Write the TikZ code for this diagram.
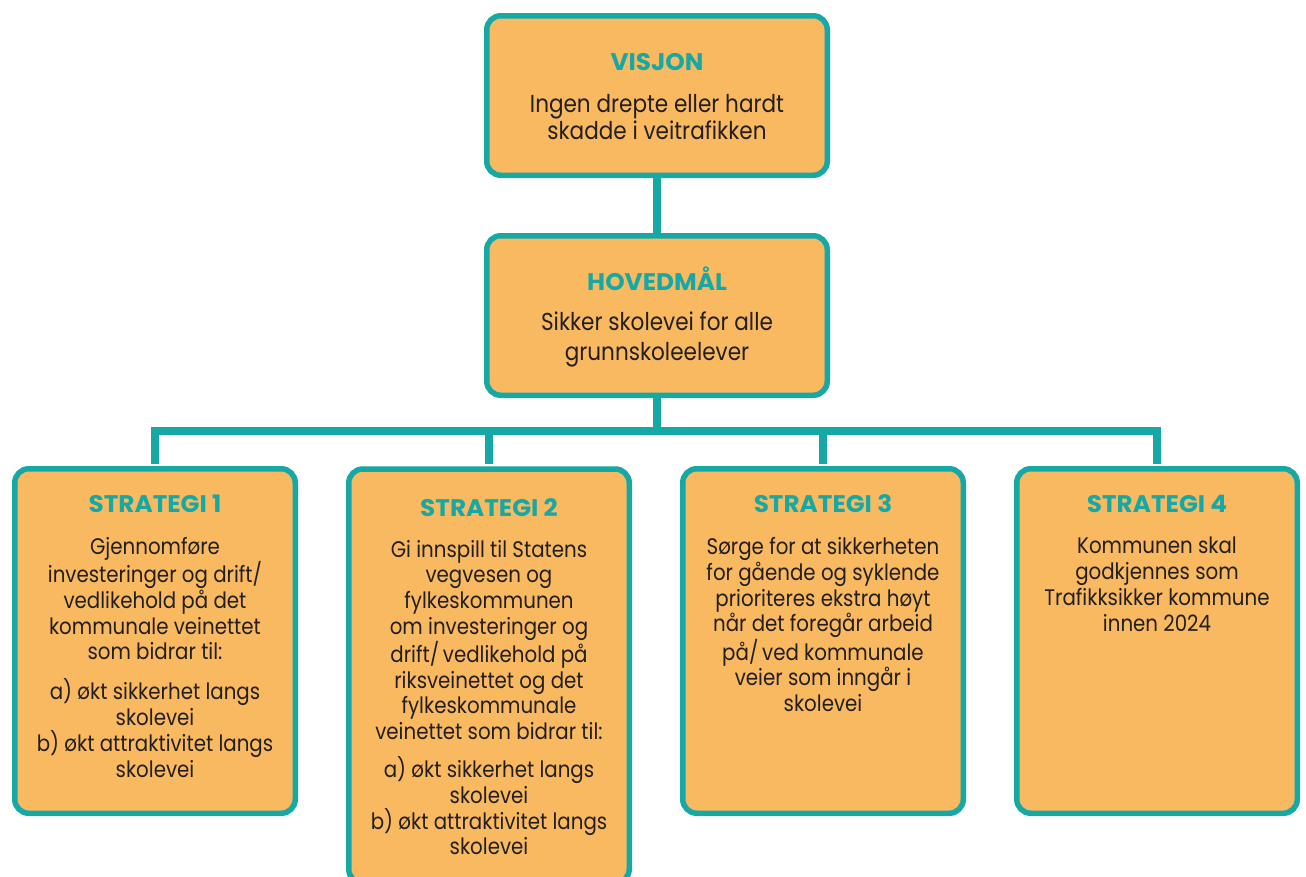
\documentclass[tikz,border=0pt]{standalone}
\usepackage{fontspec}
\setmainfont{Poppins}[FakeStretch=0.88]
\newfontfamily\headfont{Poppins}[FakeStretch=1.03]
\definecolor{boxfill}{RGB}{249,185,96}
\definecolor{teal}{RGB}{22,168,165}
\definecolor{ink}{RGB}{35,31,32}
\begin{document}
\begin{tikzpicture}[x=1pt,y=-1pt,
  box/.style={draw=teal, line width=5.5pt, fill=boxfill, rounded corners=14pt, inner sep=0pt},
  conn/.style={draw=teal, line width=7.5pt},
  head/.style={font=\headfont\bfseries\fontsize{24}{28}\selectfont, text=teal, inner sep=0pt, anchor=base},
  body/.style={font=\fontsize{22.5}{25.8}\selectfont, text=ink, align=center, inner sep=0pt, anchor=north}
]
\useasboundingbox (0,0) rectangle (1306,876);
\clip (0,0) rectangle (1306,876);
% boxes
\node[box, minimum width=340.5pt, minimum height=159.5pt] (vis) at (657,95.5) {};
\node[box, minimum width=340.5pt, minimum height=159.5pt] (hov) at (657,315.5) {};
\node[box, minimum width=280.5pt, minimum height=344.5pt] (s1) at (155,641) {};
\node[box, minimum width=280.5pt, minimum height=414pt] (s2) at (489,676) {};
\node[box, minimum width=280.5pt, minimum height=344.5pt] (s3) at (823,641) {};
\node[box, minimum width=280.5pt, minimum height=344.5pt] (s4) at (1157,641) {};
\coordinate (bar) at (657,431);
% texts
\node[head] (visH) at (657,70) {VISJON};
\node[body, font=\fontsize{24.5}{27.5}\selectfont] (visT) at (657,94) {Ingen drepte eller hardt\\skadde i veitrafikken};
\node[head] (hovH) at (657,290) {HOVEDMÅL};
\node[body, font=\fontsize{24.5}{29.5}\selectfont] (hovT) at (657,312) {Sikker skolevei for alle\\grunnskoleelever};
\node[head] (s1H) at (155,512) {STRATEGI 1};
\node[body] (s1T) at (155,537) {Gjennomføre\\investeringer og drift/\\vedlikehold på det\\kommunale veinettet\\som bidrar til:\\[14pt]a) økt sikkerhet langs\\skolevei\\b) økt attraktivitet langs\\skolevei};
\node[head] (s2H) at (489,516) {STRATEGI 2};
\node[body, font=\fontsize{22.5}{25.6}\selectfont] (s2T) at (489,540) {Gi innspill til Statens\\vegvesen og\\fylkeskommunen\\om investeringer og\\drift/\,vedlikehold på\\riksveinettet og det\\fylkeskommunale\\veinettet som bidrar til:\\[13pt]a) økt sikkerhet langs\\skolevei\\b) økt attraktivitet langs\\skolevei};
\node[head] (s3H) at (823,512) {STRATEGI 3};
\node[body] (s3T) at (823,537) {Sørge for at sikkerheten\\for gående og syklende\\prioriteres ekstra høyt\\når det foregår arbeid\\på/\,ved kommunale\\veier som inngår i\\skolevei};
\node[head] (s4H) at (1157,512) {STRATEGI 4};
\node[body] (s4T) at (1157,537) {Kommunen skal\\godkjennes som\\Trafikksikker kommune\\innen 2024};
% connectors
\path[conn] (vis.south) -- (hov.north);
\path[conn] (hov.south) -- (bar);
\path[conn] ([yshift=2pt]s1.north) -- (s1.north |- bar) -- (s4.north |- bar) -- ([yshift=2pt]s4.north);
\path[conn] ([yshift=2pt]s2.north) -- (s2.north |- bar);
\path[conn] ([yshift=2pt]s3.north) -- (s3.north |- bar);
\end{tikzpicture}
\end{document}
